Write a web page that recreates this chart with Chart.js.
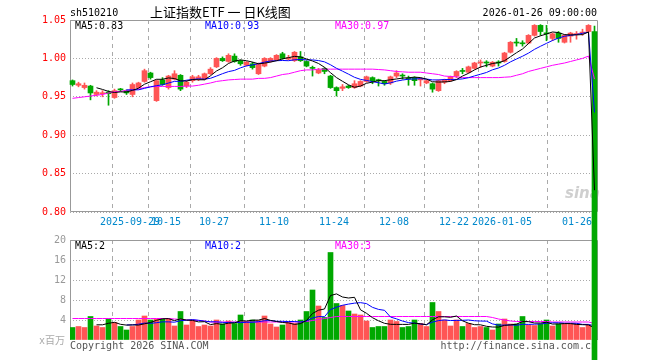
<!DOCTYPE html>
<html>
<head>
<meta charset="utf-8">
<script src="https://cdn.jsdelivr.net/npm/chart.js@4.4.1/dist/chart.umd.min.js"></script>
<style>
  html, body { margin: 0; padding: 0; background: #fff; }
  #wrap { position: relative; width: 660px; height: 360px; overflow: hidden;
          font-family: 'DejaVu Sans Mono', 'Noto Sans CJK SC', monospace; font-size: 10px; }
  canvas { position: absolute; left: 0; top: 0; }
  #volCanvas { z-index: 1; }
  #priceCanvas { z-index: 3; }
  .txt { position: absolute; z-index: 2; white-space: pre; line-height: 12px; }
</style>
</head>
<body>
<div id="wrap">
  <canvas id="volCanvas" width="660" height="360"></canvas>
  <div class="txt" style="left:70px;top:7px;color:#000">sh510210</div>
  <div class="txt" style="left:150px;top:3px;font-family:'Noto Sans CJK SC';font-size:13px;line-height:18px;color:#000">上证指数ETF 一 日K线图</div>
  <div class="txt" style="right:63px;top:7px;color:#000">2026-01-26 09:00:00</div>
  <div class="txt" style="left:75px;top:20px;color:#000">MA5:0.83</div>
  <div class="txt" style="left:205px;top:20px;color:#0000ff">MA10:0.93</div>
  <div class="txt" style="left:335px;top:20px;color:#ff00ff">MA30:0.97</div>
  <div class="txt" style="left:75px;top:240px;color:#000">MA5:2</div>
  <div class="txt" style="left:205px;top:240px;color:#0000ff">MA10:2</div>
  <div class="txt" style="left:335px;top:240px;color:#ff00ff">MA30:3</div>
  <div class="txt" style="left:565px;top:184px;font-family:'DejaVu Sans';font-style:italic;font-weight:bold;font-size:15px;line-height:18px;color:#cfcfcf">sina</div>
  <div class="txt" style="left:39px;top:335px;color:#aaa">x百万</div>
  <div class="txt" style="left:70px;top:340px;color:#555">Copyright 2026 SINA.COM</div>
  <div class="txt" style="right:63px;top:340px;color:#555">http://finance.sina.com.cn</div>
  <canvas id="priceCanvas" width="660" height="360"></canvas>
</div>
<script>
// trading days shown
const dates = [
  '2025-09-15','2025-09-16','2025-09-17','2025-09-18','2025-09-19','2025-09-22','2025-09-23','2025-09-24','2025-09-25','2025-09-26',
  '2025-09-29','2025-09-30','2025-10-09','2025-10-10','2025-10-13','2025-10-14','2025-10-15','2025-10-16','2025-10-17','2025-10-20',
  '2025-10-21','2025-10-22','2025-10-23','2025-10-24','2025-10-27','2025-10-28','2025-10-29','2025-10-30','2025-10-31','2025-11-03',
  '2025-11-04','2025-11-05','2025-11-06','2025-11-07','2025-11-10','2025-11-11','2025-11-12','2025-11-13','2025-11-14','2025-11-17',
  '2025-11-18','2025-11-19','2025-11-20','2025-11-21','2025-11-24','2025-11-25','2025-11-26','2025-11-27','2025-11-28','2025-12-01',
  '2025-12-02','2025-12-03','2025-12-04','2025-12-05','2025-12-08','2025-12-09','2025-12-10','2025-12-11','2025-12-12','2025-12-15',
  '2025-12-16','2025-12-17','2025-12-18','2025-12-19','2025-12-22','2025-12-23','2025-12-24','2025-12-25','2025-12-26','2025-12-29',
  '2025-12-30','2025-12-31','2026-01-05','2026-01-06','2026-01-07','2026-01-08','2026-01-09','2026-01-12','2026-01-13','2026-01-14',
  '2026-01-15','2026-01-16','2026-01-19','2026-01-20','2026-01-21','2026-01-22','2026-01-23','2026-01-26'
];

const openP = [
  0.971,0.965,0.962,0.964,0.953,0.954,0.956,0.949,0.960,0.958,
  0.953,0.962,0.970,0.981,0.945,0.972,0.962,0.973,0.978,0.964,
  0.971,0.973,0.973,0.980,0.989,1.000,0.996,1.003,0.997,0.991,
  0.993,0.980,0.990,0.996,0.998,1.006,0.999,0.997,1.002,0.996,
  0.988,0.981,0.987,0.977,0.962,0.961,0.964,0.962,0.964,0.970,
  0.975,0.972,0.970,0.968,0.977,0.978,0.974,0.975,0.972,0.968,
  0.967,0.958,0.969,0.971,0.977,0.984,0.982,0.987,0.994,0.995,
  0.990,0.995,0.996,1.008,1.021,1.020,1.020,1.030,1.043,1.033,
  1.026,1.033,1.021,1.029,1.031,1.033,1.035,1.035
];
const highP = [
  0.972,0.969,0.968,0.965,0.958,0.958,0.958,0.960,0.961,0.959,
  0.968,0.969,0.986,0.982,0.972,0.975,0.978,0.984,0.979,0.971,
  0.978,0.978,0.981,0.988,1.001,1.002,1.006,1.006,0.998,0.996,
  0.995,0.994,1.001,1.001,1.005,1.008,1.004,1.009,1.009,0.997,
  0.990,0.987,0.988,0.978,0.963,0.966,0.965,0.971,0.971,0.977,
  0.976,0.973,0.971,0.977,0.984,0.980,0.977,0.976,0.975,0.972,
  0.968,0.972,0.973,0.977,0.984,0.987,0.990,0.995,0.998,0.997,
  0.996,0.997,1.008,1.022,1.026,1.023,1.031,1.044,1.044,1.043,
  1.033,1.035,1.031,1.034,1.035,1.038,1.044,1.042
];
const lowP = [
  0.964,0.963,0.960,0.946,0.951,0.950,0.939,0.948,0.957,0.953,
  0.950,0.961,0.969,0.973,0.944,0.965,0.960,0.972,0.958,0.962,
  0.969,0.971,0.972,0.979,0.988,0.996,0.995,0.995,0.991,0.990,
  0.986,0.979,0.989,0.995,0.997,0.999,0.998,0.996,0.996,0.989,
  0.977,0.980,0.980,0.961,0.951,0.958,0.961,0.961,0.963,0.969,
  0.967,0.964,0.965,0.966,0.975,0.973,0.965,0.965,0.964,0.967,
  0.956,0.957,0.967,0.970,0.975,0.980,0.981,0.986,0.988,0.989,
  0.989,0.990,0.995,1.007,1.016,1.016,1.019,1.029,1.030,1.023,
  1.023,1.021,1.020,1.021,1.025,1.030,1.034,0.000
];
const closeP = [
  0.966,0.967,0.965,0.955,0.956,0.955,0.954,0.958,0.959,0.955,
  0.966,0.968,0.984,0.975,0.971,0.966,0.977,0.980,0.960,0.969,
  0.976,0.976,0.980,0.986,1.000,0.997,1.004,0.996,0.993,0.995,
  0.988,0.993,1.000,1.000,1.004,1.000,1.001,1.008,0.997,0.990,
  0.987,0.985,0.983,0.962,0.958,0.963,0.962,0.967,0.970,0.976,
  0.971,0.971,0.967,0.976,0.981,0.977,0.973,0.971,0.973,0.971,
  0.960,0.971,0.972,0.976,0.983,0.983,0.989,0.994,0.995,0.994,
  0.995,0.994,1.007,1.021,1.020,1.019,1.030,1.043,1.035,1.032,
  1.032,1.026,1.030,1.033,1.032,1.034,1.043,0.000
];
// MA30 as drawn (history before the window is not shown)
const ma30P = [
  0.948,0.949,0.950,0.951,0.952,0.953,0.955,0.9565,0.957,0.9585,
  0.959,0.960,0.962,0.963,0.9635,0.9635,0.9635,0.9635,0.9635,0.964,
  0.964,0.965,0.9665,0.968,0.970,0.971,0.972,0.9725,0.973,0.973,
  0.973,0.974,0.974,0.975,0.977,0.979,0.980,0.982,0.984,0.985,
  0.985,0.986,0.986,0.986,0.986,0.986,0.986,0.986,0.986,0.986,
  0.986,0.9855,0.985,0.984,0.983,0.9825,0.982,0.982,0.982,0.981,
  0.980,0.979,0.977,0.9765,0.976,0.975,0.975,0.975,0.975,0.975,
  0.975,0.975,0.9755,0.976,0.978,0.980,0.983,0.985,0.987,0.989,
  0.991,0.9925,0.994,0.996,0.998,1.000,1.003,0.973
];
// volume, millions
const volume = [
  2.5,2.7,2.5,4.7,2.8,2.5,4.2,3.5,2.7,2.0,
  2.7,4.0,4.8,4.0,4.2,4.2,4.2,2.8,5.7,3.0,
  3.9,2.7,3.0,2.8,4.0,3.2,3.8,3.3,5.0,3.7,
  4.0,3.9,4.8,3.2,2.6,3.0,3.5,3.3,4.0,5.7,
  10.0,6.8,4.5,17.5,7.3,6.9,5.8,5.2,5.0,3.8,
  2.5,2.7,2.7,4.0,3.7,2.5,2.7,4.0,3.3,2.7,
  7.5,5.7,4.0,2.8,4.0,2.7,3.3,2.5,2.7,2.5,
  2.0,3.2,4.2,3.2,3.2,4.7,3.0,2.9,3.2,4.0,
  2.8,3.2,3.2,3.2,3.2,2.5,3.0,0
];
const ma30V = [
  4.3,4.3,4.3,4.3,4.3,4.3,4.3,4.3,4.3,4.3,
  4.3,4.3,4.3,4.3,4.3,4.3,4.3,4.2,4.1,4.0,
  4.0,3.9,3.8,3.6,3.6,3.6,3.6,3.6,3.6,3.6,
  3.6,3.6,3.6,3.6,3.6,3.6,3.6,3.6,3.6,3.7,
  3.9,4.1,4.3,4.5,4.7,4.7,4.7,4.7,4.7,4.7,
  4.7,4.7,4.7,4.7,4.7,4.7,4.7,4.7,4.7,4.7,
  4.7,4.7,4.7,4.7,4.7,4.7,4.7,4.7,4.7,4.7,
  4.5,4.2,4.0,3.8,3.7,3.7,3.7,3.7,3.7,3.7,
  3.6,3.6,3.6,3.6,3.6,3.6,3.6,3.3
];

const tickDates = ['2025-09-29','2025-10-15','2025-10-27','2025-11-10','2025-11-24','2025-12-08','2025-12-22','2026-01-05','2026-01-26'];
const tickText = ['2025-09-29','10-15','10-27','11-10','11-24','12-08','12-22','2026-01-05','01-26     '];
const priceTicks = [0.80, 0.85, 0.90, 0.95, 1.00, 1.05];
const volTicks = [0, 4, 8, 12, 16, 20];

// Colors
const RED = '#ff5555';
const GREEN = '#00a800';
const GRID = '#aaaaaa';
const FRAME = '#999999';
const MONO = 'DejaVu Sans Mono';

// Helpers
const movingAvg = (src, n) => src.map((v, i) =>
  i < n - 1 ? null : src.slice(i - n + 1, i + 1).reduce((a, b) => a + b, 0) / n);
const toPoints = arr => arr.map((v, i) => ({ x: i, y: v }));

const candleColors = closeP.map((c, i) => c >= openP[i] ? RED : GREEN);
const bodies = closeP.map((c, i) => ({ x: i, y: [openP[i], c] }));
const wicks = closeP.map((c, i) => ({ x: i, y: [lowP[i], highP[i]] }));
const volBars = volume.map((v, i) => ({ x: i, y: v }));

// each candle is 6px: body starts on the grid line and is 5px wide
const half = 2.5 / 6;
const xMin = -half;
const xMax = dates.length - half;
const tickIdx = tickDates.map(d => dates.indexOf(d));

// Frame around a panel
const framePlugin = {
  id: 'frame',
  beforeDatasetsDraw(chart, args, opts) {
    const { ctx, chartArea: a } = chart;
    ctx.save();
    ctx.strokeStyle = opts.color;
    ctx.lineWidth = 1;
    ctx.beginPath();
    ctx.moveTo(a.left + 0.5, opts.bottom ? a.bottom - 0.5 : a.bottom);
    ctx.lineTo(a.left + 0.5, a.top + 0.5);
    ctx.lineTo(a.right - 0.5, a.top + 0.5);
    ctx.lineTo(a.right - 0.5, opts.bottom ? a.bottom - 0.5 : a.bottom);
    if (opts.bottom) ctx.lineTo(a.left + 0.5, a.bottom - 0.5);
    ctx.stroke();
    ctx.restore();
  }
};

const lineSet = (label, data, color) => ({
  type: 'line', label, data: toPoints(data), borderColor: color, borderWidth: 1,
  pointRadius: 0, tension: 0, fill: false, order: 1
});

const xAxis = (height, showLabels) => ({
  type: 'linear', min: xMin, max: xMax, offset: false,
  afterBuildTicks: s => { s.ticks = tickIdx.map(i => ({ value: i - half })); },
  afterFit: s => { s.height = height; },
  ticks: {
    display: showLabels, autoSkip: false, maxRotation: 0, minRotation: 0, padding: 4,
    color: '#0088cc', font: { family: MONO, size: 10 },
    callback: (v, idx) => tickText[idx]
  },
  grid: { color: GRID, drawTicks: false },
  border: { display: false, dash: [4, 4] }
});

const baseOptions = {
  responsive: false,
  animation: false,
  events: [],
  plugins: { legend: { display: false }, tooltip: { enabled: false } }
};

// Price panel
new Chart(document.getElementById('priceCanvas'), {
  type: 'bar',
  data: {
    datasets: [
      lineSet('MA5', movingAvg(closeP, 5), '#000000'),
      lineSet('MA10', movingAvg(closeP, 10), '#0000ff'),
      lineSet('MA30', ma30P, '#ff00ff'),
      { label: 'body', data: bodies, backgroundColor: candleColors, barThickness: 5,
        minBarLength: 1, grouped: false, order: 2, clip: false },
      { label: 'wick', data: wicks, backgroundColor: candleColors, barThickness: 1,
        grouped: false, order: 3, clip: false }
    ]
  },
  options: {
    ...baseOptions,
    layout: { padding: { top: 20, right: 62, left: 0, bottom: 0 } },
    plugins: { ...baseOptions.plugins, frame: { color: FRAME, bottom: true } },
    scales: {
      x: xAxis(148, true),
      y: {
        min: 0.80, max: 1.05,
        afterBuildTicks: s => { s.ticks = priceTicks.map(v => ({ value: v })); },
        afterFit: s => { s.width = 70; },
        ticks: { color: '#ff0000', padding: 4, font: { family: MONO, size: 10 }, callback: v => v.toFixed(2) },
        grid: { color: GRID, drawTicks: false },
        border: { display: false, dash: [1, 2] }
      }
    }
  },
  plugins: [framePlugin]
});

// Volume panel
new Chart(document.getElementById('volCanvas'), {
  type: 'bar',
  data: {
    datasets: [
      lineSet('MA5', movingAvg(volume, 5), '#000000'),
      lineSet('MA10', movingAvg(volume, 10), '#0000ff'),
      lineSet('MA30', ma30V, '#ff00ff'),
      { label: 'vol', data: volBars, backgroundColor: candleColors, barThickness: 5,
        grouped: false, order: 2 }
    ]
  },
  options: {
    ...baseOptions,
    layout: { padding: { top: 240, right: 62, left: 0, bottom: 0 } },
    plugins: { ...baseOptions.plugins, frame: { color: FRAME, bottom: false } },
    scales: {
      x: xAxis(20, false),
      y: {
        min: 0, max: 20,
        afterBuildTicks: s => { s.ticks = volTicks.map(v => ({ value: v })); },
        afterFit: s => { s.width = 70; },
        ticks: { color: '#999999', padding: 4, font: { family: MONO, size: 10 }, callback: v => v === 0 ? '' : String(v) },
        grid: { color: ctx => ctx.tick && ctx.tick.value === 0 ? 'rgba(0,0,0,0)' : GRID, drawTicks: false },
        border: { display: false, dash: [1, 2] }
      }
    }
  },
  plugins: [framePlugin]
});
</script>
</body>
</html>
